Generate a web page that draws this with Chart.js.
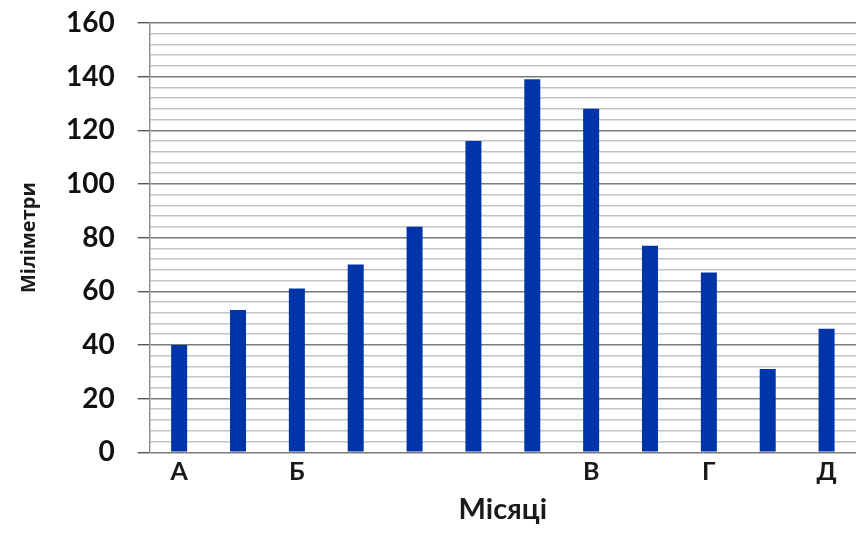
<!DOCTYPE html>
<html><head><meta charset="utf-8">
<script src="https://cdn.jsdelivr.net/npm/chart.js@4"></script>
<style>html,body{margin:0;padding:0;background:#fff;overflow:hidden}#o{width:867px;height:546px;overflow:hidden}#w{width:867px;height:560px;margin-top:-14px}</style>
</head><body><div id="o"><div id="w"><canvas id="c"></canvas></div></div>
<script>
const categories = ["А", "", "Б", "", "", "", "", "В", "", "Г", "", "Д"];
const values = [40, 53, 61, 70, 84, 116, 139, 128, 77, 67, 31, 46];
const yTickLabels = [0, 20, 40, 60, 80, 100, 120, 140, 160];
const xTitle = "Місяці";
const yTitle = "Міліметри";

const ctx = document.getElementById('c');
new Chart(ctx, {
  type: 'bar',
  data: { labels: categories, datasets: [{ data: values, backgroundColor: '#0034a9', borderWidth: 0, categoryPercentage: 1, barPercentage: 0.272 }] },
  options: {
    responsive: true, maintainAspectRatio: false, animation: false,
    layout: { padding: { top: 0, right: 11, left: 17, bottom: 19 } },
    plugins: { legend: { display: false }, tooltip: { enabled: false } },
    scales: {
      x: {
        offset: true,
        grid: { display: false, drawTicks: false },
        border: { display: false },
        ticks: { autoSkip: false, maxRotation: 0, color: '#1a1a1a', padding: 5, font: { family: 'Lato', weight: 'bold', size: 25, lineHeight: 1.2 } },
        title: { display: true, text: xTitle, color: '#1a1a1a', padding: { top: 0, bottom: 0 }, font: { family: 'Lato', weight: 'bold', size: 29, lineHeight: 1.2 } }
      },
      y: {
        min: 0, max: 160,
        ticks: {
          stepSize: 4, autoSkip: false, color: '#111', padding: 23,
          font: { family: 'Lato', weight: 'bold', size: 28, lineHeight: 1 },
          callback: (v) => yTickLabels.includes(v) ? String(v) : ''
        },
        grid: {
          color: (c) => (c.tick && c.tick.value % 20 === 0) ? '#7a7a7a' : '#c4c4c4',
          lineWidth: (c) => (c.tick && c.tick.value % 20 === 0) ? 1.4 : 1.6,
          tickColor: (c) => (c.tick && c.tick.value % 20 === 0) ? '#555' : 'rgba(0,0,0,0)',
          tickLength: 12
        },
        border: { display: true, color: '#8a8a8a', width: 1.4 },
        title: { display: true, text: yTitle, color: '#1a1a1a', padding: { top: 0, bottom: 2 }, font: { family: 'Open Sans', weight: 'bold', size: 20, lineHeight: 1.2 } }
      }
    }
  }
});
</script></body></html>
